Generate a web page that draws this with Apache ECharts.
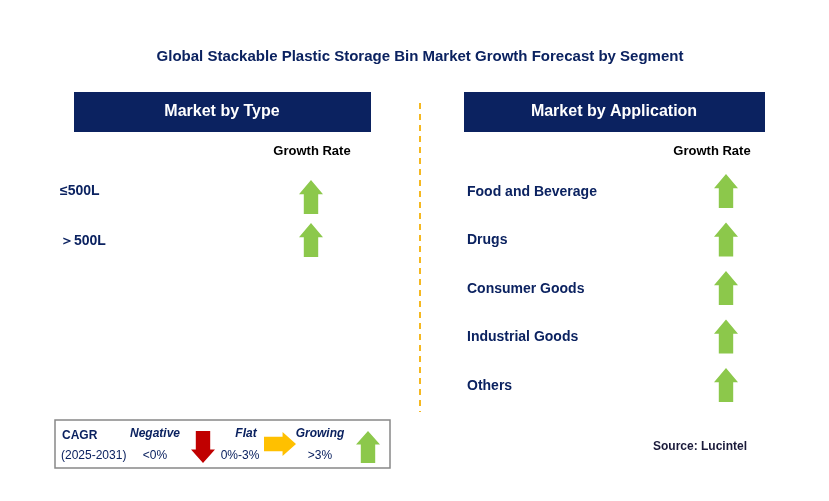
<!DOCTYPE html>
<html>
<head>
<meta charset="utf-8">
<script src="https://cdn.jsdelivr.net/npm/echarts@6/dist/echarts.min.js"></script>
<style>html,body{margin:0;padding:0;background:#fff}#main{width:829px;height:501px}</style>
</head>
<body>
<div id="main"></div>
<script>
const chartTitle = 'Global Stackable Plastic Storage Bin Market Growth Forecast by Segment'
const typeSegments = ['≤500L', '＞500L']
const typeTrends = ['up', 'up']
const appSegments = ['Food and Beverage', 'Drugs', 'Consumer Goods', 'Industrial Goods', 'Others']
const appTrends = ['up', 'up', 'up', 'up', 'up']
const legendLabels = ['Negative', 'Flat', 'Growing']
const legendRanges = ['<0%', '0%-3%', '>3%']

const NAVY = '#0b2260'
const GREEN = '#8cc84b'
const colors = { up: GREEN, down: '#c00000', flat: '#ffc000' }
const font = 'Arial, "Liberation Sans", sans-serif'

// arrow polygon, cx/cy = centre, w = width, h = length
function arrow(cx, cy, w, h, dir) {
    const hw = w / 2, sw = w * 0.3, hh = h * 0.42
    let pts = [[0, -h / 2], [hw, -h / 2 + hh], [sw, -h / 2 + hh], [sw, h / 2], [-sw, h / 2], [-sw, -h / 2 + hh], [-hw, -h / 2 + hh]]
    if (dir === 'down') pts = pts.map(p => [p[0], -p[1]])
    if (dir === 'flat') pts = pts.map(p => [-p[1], p[0]])
    return {
        type: 'polygon',
        shape: { points: pts.map(p => [cx + p[0], cy + p[1]]) },
        style: { fill: colors[dir] }
    }
}
function text(x, y, str, opt) {
    return {
        type: 'text', x: x, y: y,
        style: Object.assign({ text: str, font: 'bold 14px ' + font, fill: NAVY, textAlign: 'left', textVerticalAlign: 'middle' }, opt || {})
    }
}

const g = []
g.push(text(420, 57, chartTitle, { textAlign: 'center', font: 'bold 15px ' + font }))
// headers
g.push({ type: 'rect', shape: { x: 74, y: 92, width: 297, height: 40 }, style: { fill: NAVY } })
g.push(text(222, 112, 'Market by Type', { textAlign: 'center', fill: '#fff', font: 'bold 16px ' + font }))
g.push({ type: 'rect', shape: { x: 464, y: 92, width: 301, height: 40 }, style: { fill: NAVY } })
g.push(text(614, 112, 'Market by Application', { textAlign: 'center', fill: '#fff', font: 'bold 16px ' + font }))
g.push(text(312, 151, 'Growth Rate', { textAlign: 'center', fill: '#000', font: 'bold 13px ' + font }))
g.push(text(712, 151, 'Growth Rate', { textAlign: 'center', fill: '#000', font: 'bold 13px ' + font }))
// divider
g.push({ type: 'line', shape: { x1: 420, y1: 103, x2: 420, y2: 412 }, style: { stroke: '#f5b820', lineWidth: 2, lineDash: [6, 5] } })

typeSegments.forEach((s, i) => {
    g.push(text(60, 191 + i * 50, s))
    g.push(arrow(311, 197 + i * 43, 24, 34, typeTrends[i]))
})
appSegments.forEach((s, i) => {
    g.push(text(467, 192 + i * 48.5, s))
    g.push(arrow(726, 191 + i * 48.5, 24, 34, appTrends[i]))
})

// legend box
g.push({ type: 'rect', shape: { x: 55, y: 420, width: 335, height: 48 }, style: { fill: '#fff', stroke: '#888', lineWidth: 1.5 } })
g.push(text(62, 436, 'CAGR', { font: 'bold 12px ' + font }))
g.push(text(61, 456, '(2025-2031)', { font: '12px ' + font }))
const lgX = [155, 246, 320], rgX = [155, 240, 320], arX = [203, 280, 368]
const dirs = ['down', 'flat', 'up']
legendLabels.forEach((l, i) => {
    g.push(text(lgX[i], 434, l, { textAlign: 'center', font: 'italic bold 12px ' + font }))
    g.push(text(rgX[i], 456, legendRanges[i], { textAlign: 'center', font: '12px ' + font }))
    g.push(dirs[i] === 'flat' ? arrow(arX[i], 444, 24, 32, 'flat') : arrow(arX[i], 447, 24, 32, dirs[i]))
})
g.push(text(700, 447, 'Source: Lucintel', { textAlign: 'center', font: 'bold 12px ' + font, fill: '#1a1a3a' }))

const myChart = echarts.init(document.getElementById('main'))
myChart.setOption({ animation: false, graphic: { elements: g } })
</script>
</body>
</html>
